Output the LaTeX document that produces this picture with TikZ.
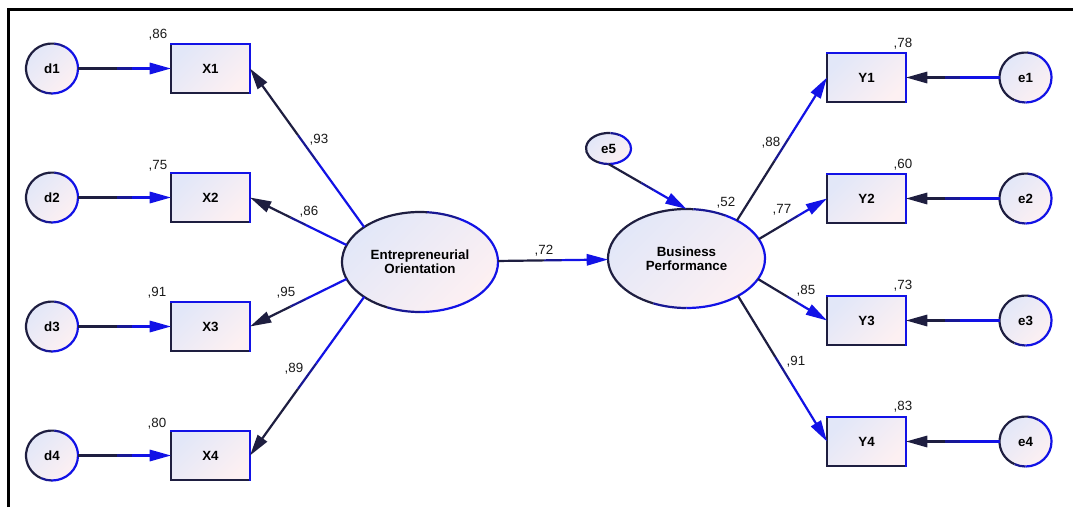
\documentclass[tikz,border=0pt]{standalone}
\usepackage{fontspec}
\setmainfont{Liberation Sans}
\usetikzlibrary{arrows.meta,shapes.geometric}
\newdimen\pxu \pxu=0.75pt
\definecolor{dk}{HTML}{1E1E40}
\definecolor{bl}{HTML}{1212E6}
\definecolor{fA}{HTML}{E2E7F8}
\definecolor{fB}{HTML}{FDF0F2}
\definecolor{txt}{HTML}{1A1A1A}
\newcommand\semlink[4]{%
  \path (#1) -- (#2) coordinate[pos=0.42] (lkA) coordinate[pos=0.58] (lkB);
  \draw[lk,draw=#3] (#1) -- (lkA);
  \draw[lk,draw=#3!50!#4] (lkA) -- (lkB);
  \draw[lk,draw=#4,-{Triangle[length=16pt,width=8.5pt]}] (lkB) -- (#2);
}
\newcommand\boxedge[1]{%
  \draw[dk,line width=2.2\pxu,line cap=rect] (#1.north west) -- (#1.south west) -- (#1.south east);
  \draw[bl,line width=2.2\pxu,line cap=rect] (#1.north west) -- (#1.north east) -- (#1.south east);
}
\newcommand\ovaledge[3]{%
  \draw[dk,line width=2.2\pxu] ([shift={(85:#2 and #3)}]#1.center) arc[start angle=85,end angle=245,x radius=#2,y radius=#3];
  \draw[dk!50!bl,line width=2.2\pxu] ([shift={(60:#2 and #3)}]#1.center) arc[start angle=60,end angle=85,x radius=#2,y radius=#3];
  \draw[dk!50!bl,line width=2.2\pxu] ([shift={(245:#2 and #3)}]#1.center) arc[start angle=245,end angle=270,x radius=#2,y radius=#3];
  \draw[bl,line width=2.2\pxu] ([shift={(270:#2 and #3)}]#1.center) arc[start angle=270,end angle=420,x radius=#2,y radius=#3];
}
\begin{document}
\begin{tikzpicture}[x=0.75pt,y=0.75pt,
  lk/.style={line width=2.2\pxu},
  shaded/.style={shade,top color=fA,bottom color=fB,shading angle=45,inner sep=0pt,outer sep=0pt,
    font=\bfseries\fontsize{10}{10.5}\selectfont,text=black,align=center},
  obsv/.style={shaded,rectangle,minimum width=79\pxu,minimum height=49\pxu},
  errc/.style={shaded,ellipse,minimum width=52\pxu,minimum height=50\pxu},
  latent/.style={shaded,ellipse},
  lbl/.style={anchor=base,inner sep=0pt,text=txt,font=\fontsize{10}{12}\selectfont}]
\useasboundingbox (0,0) rectangle (1073,-507);
\fill[white] (0,0) rectangle (1073,-507);
% frame
\coordinate (fbl) at (8.7,-507);
\coordinate (ftl) at (8.7,-9.5);
\coordinate (ftr) at (1073,-9.5);
\draw[black,line width=2.6\pxu] (fbl) -- (ftl) -- (ftr);

% observed boxes
\node[obsv] (X1) at (210.5,-68.5) {X1};
\node[obsv] (X2) at (210.5,-197.5) {X2};
\node[obsv] (X3) at (210.5,-326.5) {X3};
\node[obsv] (X4) at (210.5,-455.5) {X4};
\node[obsv] (Y1) at (866.5,-77.5) {Y1};
\node[obsv] (Y2) at (866.5,-198.5) {Y2};
\node[obsv] (Y3) at (866.5,-320.5) {Y3};
\node[obsv] (Y4) at (866.5,-441.5) {Y4};
% error circles
\node[errc] (d1) at (52,-68.5) {d1};
\node[errc] (d2) at (52,-197.5) {d2};
\node[errc] (d3) at (52,-326.5) {d3};
\node[errc] (d4) at (52,-455.5) {d4};
\node[errc] (e1) at (1025.5,-77.5) {e1};
\node[errc] (e2) at (1025.5,-198.5) {e2};
\node[errc] (e3) at (1025.5,-320.5) {e3};
\node[errc] (e4) at (1025.5,-441.5) {e4};
\node[shaded,ellipse,minimum width=45\pxu,minimum height=31\pxu] (e5) at (608.5,-148.5) {e5};
% latent
\node[latent,minimum width=156\pxu,minimum height=100\pxu] (EO) at (420,-262) {Entrepreneurial\\Orientation};
\node[latent,minimum width=157\pxu,minimum height=99\pxu] (BP) at (686.5,-258.5) {Business\\Performance};

% borders
\foreach \b in {X1,X2,X3,X4,Y1,Y2,Y3,Y4} {\boxedge{\b}}
\foreach \c in {d1,d2,d3,d4,e1,e2,e3,e4} {\ovaledge{\c}{26}{25}}
\ovaledge{e5}{22.5}{15.5}
\ovaledge{EO}{78}{50}
\ovaledge{BP}{78.5}{49.5}

% connectors
\semlink{d1}{X1}{dk}{bl}
\semlink{d2}{X2}{dk}{bl}
\semlink{d3}{X3}{dk}{bl}
\semlink{d4}{X4}{dk}{bl}
\semlink{EO.148}{X1.east}{bl}{dk}
\semlink{EO.167}{X2.east}{bl}{dk}
\semlink{EO.193}{X3.east}{bl}{dk}
\semlink{EO.212}{X4.east}{bl}{dk}
\semlink{EO}{BP}{dk}{bl}
\semlink{e5.south}{BP.north}{dk}{bl}
\semlink{BP.37}{Y1.west}{dk}{bl}
\semlink{BP.15}{Y2.west}{dk}{bl}
\semlink{BP.-16}{Y3.west}{dk}{bl}
\semlink{BP.-36}{Y4.west}{dk}{bl}
\semlink{e1}{Y1}{bl}{dk}
\semlink{e2}{Y2}{bl}{dk}
\semlink{e3}{Y3}{bl}{dk}
\semlink{e4}{Y4}{bl}{dk}

% estimates
\node[lbl] (rX1) at (158,-38) {,86};
\node[lbl] (rX2) at (158,-169) {,75};
\node[lbl] (rX3) at (157,-296) {,91};
\node[lbl] (rX4) at (157,-427) {,80};
\node[lbl] (lX1) at (319,-143) {,93};
\node[lbl] (lX2) at (309,-215) {,86};
\node[lbl] (lX3) at (286,-296) {,95};
\node[lbl] (lX4) at (294,-372) {,89};
\node[lbl] (lEB) at (544,-254) {,72};
\node[lbl] (rBP) at (726,-206) {,52};
\node[lbl] (lY1) at (771,-146) {,88};
\node[lbl] (lY2) at (782,-213) {,77};
\node[lbl] (lY3) at (806,-294) {,85};
\node[lbl] (lY4) at (796,-365) {,91};
\node[lbl] (rY1) at (903,-47) {,78};
\node[lbl] (rY2) at (903,-168) {,60};
\node[lbl] (rY3) at (903,-289) {,73};
\node[lbl] (rY4) at (903,-410) {,83};
\end{tikzpicture}
\end{document}
